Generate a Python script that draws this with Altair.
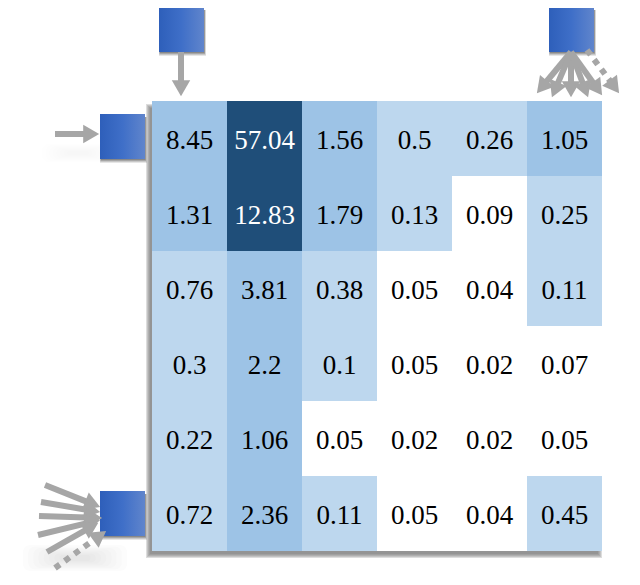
import math
import altair as alt
import pandas as pd

# ---- heat-map values (row by row) ----
rows = [
    [8.45, 57.04, 1.56, 0.5, 0.26, 1.05],
    [1.31, 12.83, 1.79, 0.13, 0.09, 0.25],
    [0.76, 3.81, 0.38, 0.05, 0.04, 0.11],
    [0.3, 2.2, 0.1, 0.05, 0.02, 0.07],
    [0.22, 1.06, 0.05, 0.02, 0.02, 0.05],
    [0.72, 2.36, 0.11, 0.05, 0.04, 0.45],
]
thresholds = [0.1, 1, 10]
shades = ["#FFFFFF", "#BDD7EE", "#9DC3E6", "#1F4E79"]

# geometry in cell units, one cell = 75 px, origin = top-left of the grid
CELL = 75.0
X0, Y0 = 152.0, 101.0
ux = lambda p: (p - X0) / CELL
uy = lambda p: (p - Y0) / CELL

GRID = 6 * CELL
xs = alt.Scale(domain=[0, 6], nice=False, zero=False)
ys = alt.Scale(domain=[0, 6], nice=False, zero=False, reverse=True)


def X(f):
    return alt.X(f"{f}:Q", scale=xs, axis=None)


def Y(f):
    return alt.Y(f"{f}:Q", scale=ys, axis=None)


def rect_layer(records, **mark):
    return alt.Chart(pd.DataFrame(records)).mark_rect(**mark).encode(
        x=X("a"), x2="b:Q", y=Y("c"), y2="d:Q",
        opacity=alt.Opacity("o:Q", scale=None),
    )


def box(l, t, r, b, o=1.0):
    return dict(a=ux(l), b=ux(r), c=uy(t), d=uy(b), o=o)


# ---- heat map ----
cells = pd.DataFrame(
    [
        dict(row=i, col=j, col2=j + 1, row2=i + 1, tx=j + 0.5, ty=i + 0.5 + 2 / CELL,
             value=v, label=f"{v:g}", ink="white" if v >= 10 else "black")
        for i, r in enumerate(rows)
        for j, v in enumerate(r)
    ]
)
heat = alt.Chart(cells).mark_rect(stroke=None).encode(
    x=X("col"), x2="col2:Q", y=Y("row"), y2="row2:Q",
    color=alt.Color("value:Q", legend=None,
                    scale=alt.Scale(type="threshold", domain=thresholds, range=shades)),
)
labels = alt.Chart(cells).mark_text(
    font="Liberation Serif", fontSize=27, baseline="middle", align="center"
).encode(
    x=X("tx"), y=Y("ty"), text="label:N",
    color=alt.Color("ink:N", scale=None),
)

# ---- shadows ----
grid_shadow = rect_layer(
    [box(146 + d, 104 + d, 602 - d, 558 - d, 0.24) for d in (0, 1, 2, 3, 4)],
    color="#707070",
)

squares_px = [(159, 7), (100, 114), (549, 7), (100, 491)]
SIDE = 45
sq_shadow = []
for (l, t) in squares_px:
    for d, o in ((4, 0.14), (3, 0.2), (2, 0.28), (1, 0.35)):
        sq_shadow.append(box(l + 1 - d / 4, t + 3, l + SIDE + d / 2, t + SIDE + d, o))
sq_shadow_layer = rect_layer(sq_shadow, color="#505050")

blob_px = []
for cx, cy, w, h, alpha in ((78, 153, 36, 9, 0.006), (75, 558, 52, 13, 0.02)):
    for k in range(8):
        blob_px.append((cx - w + k * w / 10, cy - h + k * h / 9,
                        cx + w - k * w / 10, cy + h - k * h / 9, alpha))
blobs = rect_layer([box(*b) for b in blob_px], color="#666666", cornerRadius=7)

# ---- blue squares ----
gradient = alt.LinearGradient(
    gradient="linear", x1=0, x2=1, y1=0, y2=0,
    stops=[
        alt.GradientStop(offset=0, color="#2E5FBA"),
        alt.GradientStop(offset=0.5, color="#3F6FC8"),
        alt.GradientStop(offset=1, color="#6085CC"),
    ],
)
squares = rect_layer([box(l, t, l + SIDE, t + SIDE) for l, t in squares_px], color=gradient)

# ---- arrows: tail (x, y), tip (x, y), dotted? ----
arrows = [
    (181, 52, 181, 96, False),
    (55, 134, 99, 134, False),
    (571, 52, 537, 93, False),
    (571, 52, 552, 97, False),
    (571, 52, 571, 97, False),
    (571, 52, 588, 97, False),
    (571, 52, 602, 95, False),
    (587, 50, 619, 93, True),
    (45, 485, 100, 507, False),
    (41, 502, 100, 512, False),
    (39, 516, 102, 518, False),
    (38, 535, 100, 520, False),
    (47, 552, 98, 523, False),
    (55, 568, 106, 531, True),
]
HALF_HEAD = 7.8
shafts, heads = [], []
for x1, y1, x2, y2, dotted in arrows:
    length = math.hypot(x2 - x1, y2 - y1)
    dx, dy = (x2 - x1) / length, (y2 - y1) / length
    cx, cy = x2 - dx * HALF_HEAD, y2 - dy * HALF_HEAD
    row = dict(a=ux(x1), c=uy(y1), b=ux(cx), d=uy(cy))
    shafts.append(dict(row, dotted=dotted))
    heads.append(dict(x=ux(cx), y=uy(cy), angle=(math.degrees(math.atan2(dy, dx)) + 90) % 360))

shafts = pd.DataFrame(shafts)
GREY = "#A6A6A6"
solid = alt.Chart(shafts[~shafts.dotted]).mark_rule(color=GREY, strokeWidth=6).encode(
    x=X("a"), x2="b:Q", y=Y("c"), y2="d:Q"
)
dotted = alt.Chart(shafts[shafts.dotted]).mark_rule(
    color=GREY, strokeWidth=6, strokeDash=[6, 6]
).encode(x=X("a"), x2="b:Q", y=Y("c"), y2="d:Q")
tips = alt.Chart(pd.DataFrame(heads)).mark_point(
    shape="triangle-up", filled=True, size=340, color=GREY, opacity=1
).encode(x=X("x"), y=Y("y"), angle=alt.Angle("angle:Q", scale=None))

chart = alt.layer(
    blobs, grid_shadow, heat, labels, sq_shadow_layer, squares, solid, dotted, tips
).properties(
    width=GRID,
    height=GRID,
    padding={"left": X0 - 8, "top": Y0 - 8, "right": 30, "bottom": 26},
    autosize=alt.AutoSizeParams(type="none"),
).configure_view(stroke=None)

chart.save("out.html", embed_options={"renderer": "svg", "actions": False})
